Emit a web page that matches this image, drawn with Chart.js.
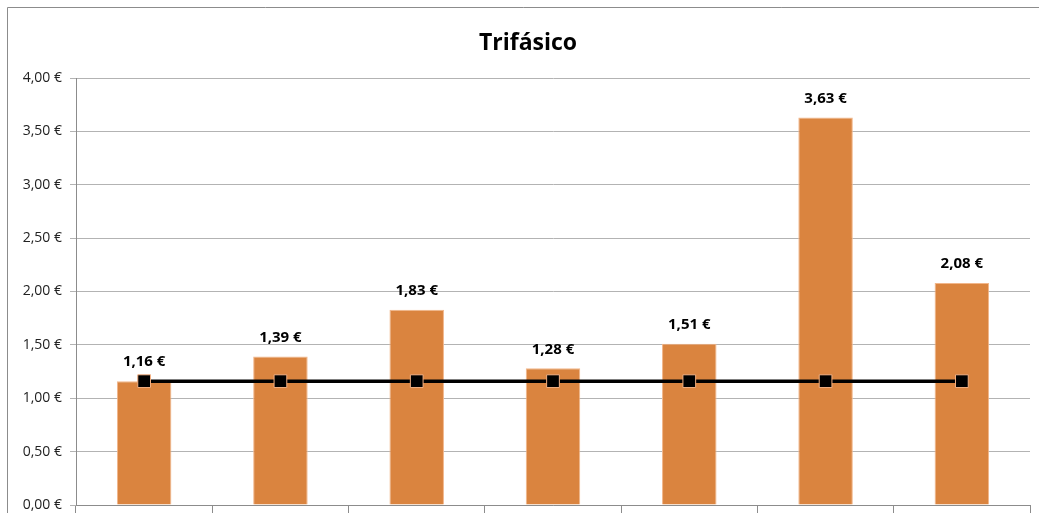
<!DOCTYPE html>
<html>
<head>
<meta charset="utf-8">
<script src="https://cdn.jsdelivr.net/npm/chart.js@4/dist/chart.umd.min.js"></script>
<style>
  html, body { margin: 0; padding: 0; background: #fff; }
  #wrap { width: 1039px; height: 513px; }
</style>
</head>
<body>
<div id="wrap"><canvas id="c" width="1039" height="513"></canvas></div>
<script>
// chart values
const categories = ["1", "2", "3", "4", "5", "6", "7"];
const costes = [1.16, 1.39, 1.83, 1.28, 1.51, 3.63, 2.08];
const referencia = [1.16, 1.16, 1.16, 1.16, 1.16, 1.16, 1.16];
const yTicks = [0, 0.5, 1, 1.5, 2, 2.5, 3, 3.5, 4];

const euro = v => v.toFixed(2).replace('.', ',') + ' €';

// title + outer frame
const framePlugin = {
    id: 'frame',
    beforeDraw(chart) {
        const { ctx } = chart;
        ctx.save();
        ctx.fillStyle = '#ffffff';
        ctx.fillRect(0, 0, chart.width, chart.height);
        ctx.strokeStyle = '#8c8c8c';
        ctx.lineWidth = 1;
        ctx.beginPath();
        ctx.moveTo(7.5, chart.height);
        ctx.lineTo(7.5, 7.5);
        ctx.lineTo(chart.width, 7.5);
        ctx.stroke();

        ctx.font = 'bold 23px "Open Sans"';
        ctx.fillStyle = '#000';
        ctx.textAlign = 'center';
        ctx.textBaseline = 'alphabetic';
        ctx.fillText('Trifásico', 528, 50);
        ctx.restore();
    }
};

// value labels above the bars
const barLabels = {
    id: 'barLabels',
    afterDatasetsDraw(chart) {
        const { ctx } = chart;
        const meta = chart.getDatasetMeta(1);
        ctx.save();
        ctx.font = 'bold 15px "Open Sans"';
        ctx.fillStyle = '#000';
        ctx.textAlign = 'center';
        ctx.textBaseline = 'middle';
        meta.data.forEach((bar, i) => {
            ctx.fillText(euro(costes[i]), bar.x, bar.y - 19);
        });
        ctx.restore();
    }
};

new Chart(document.getElementById('c'), {
    data: {
        labels: categories,
        datasets: [
            {
                type: 'line',
                data: referencia,
                borderColor: '#000',
                borderWidth: 3.5,
                pointStyle: 'rect',
                pointRadius: 9,
                pointBackgroundColor: '#000',
                pointBorderColor: '#F4B183',
                pointBorderWidth: 1,
                order: 0
            },
            {
                type: 'bar',
                data: costes,
                backgroundColor: '#DA843F',
                borderColor: '#F2B68A',
                borderWidth: 1,
                barPercentage: 0.4,
                categoryPercentage: 1,
                order: 1
            }
        ]
    },
    options: {
        responsive: false,
        animation: false,
        events: [],
        layout: { autoPadding: false, padding: { left: 0, right: 9, top: 78, bottom: 0 } },
        plugins: {
            legend: { display: false },
            tooltip: { enabled: false }
        },
        scales: {
            x: {
                grid: {
                    offset: true,
                    drawOnChartArea: false,
                    drawTicks: true,
                    tickLength: 8,
                    color: '#8c8c8c'
                },
                border: { color: '#8c8c8c' },
                ticks: { display: false, padding: 0 },
                afterFit(scale) { scale.height = 8; }
            },
            y: {
                min: 0,
                max: 4,
                afterBuildTicks(scale) { scale.ticks = yTicks.map(v => ({ value: v })); },
                grid: { color: '#b3b3b3', tickLength: 6 },
                border: { color: '#8c8c8c' },
                ticks: {
                    font: { family: '"Open Sans"', size: 14, lineHeight: 1 },
                    color: '#222',
                    padding: 8,
                    callback: v => euro(v)
                },
                afterFit(scale) {
                    scale.width = 76;
                    scale.paddingTop = 0;
                    scale.paddingBottom = 0;
                }
            }
        }
    },
    plugins: [framePlugin, barLabels]
});
</script>
</body>
</html>
